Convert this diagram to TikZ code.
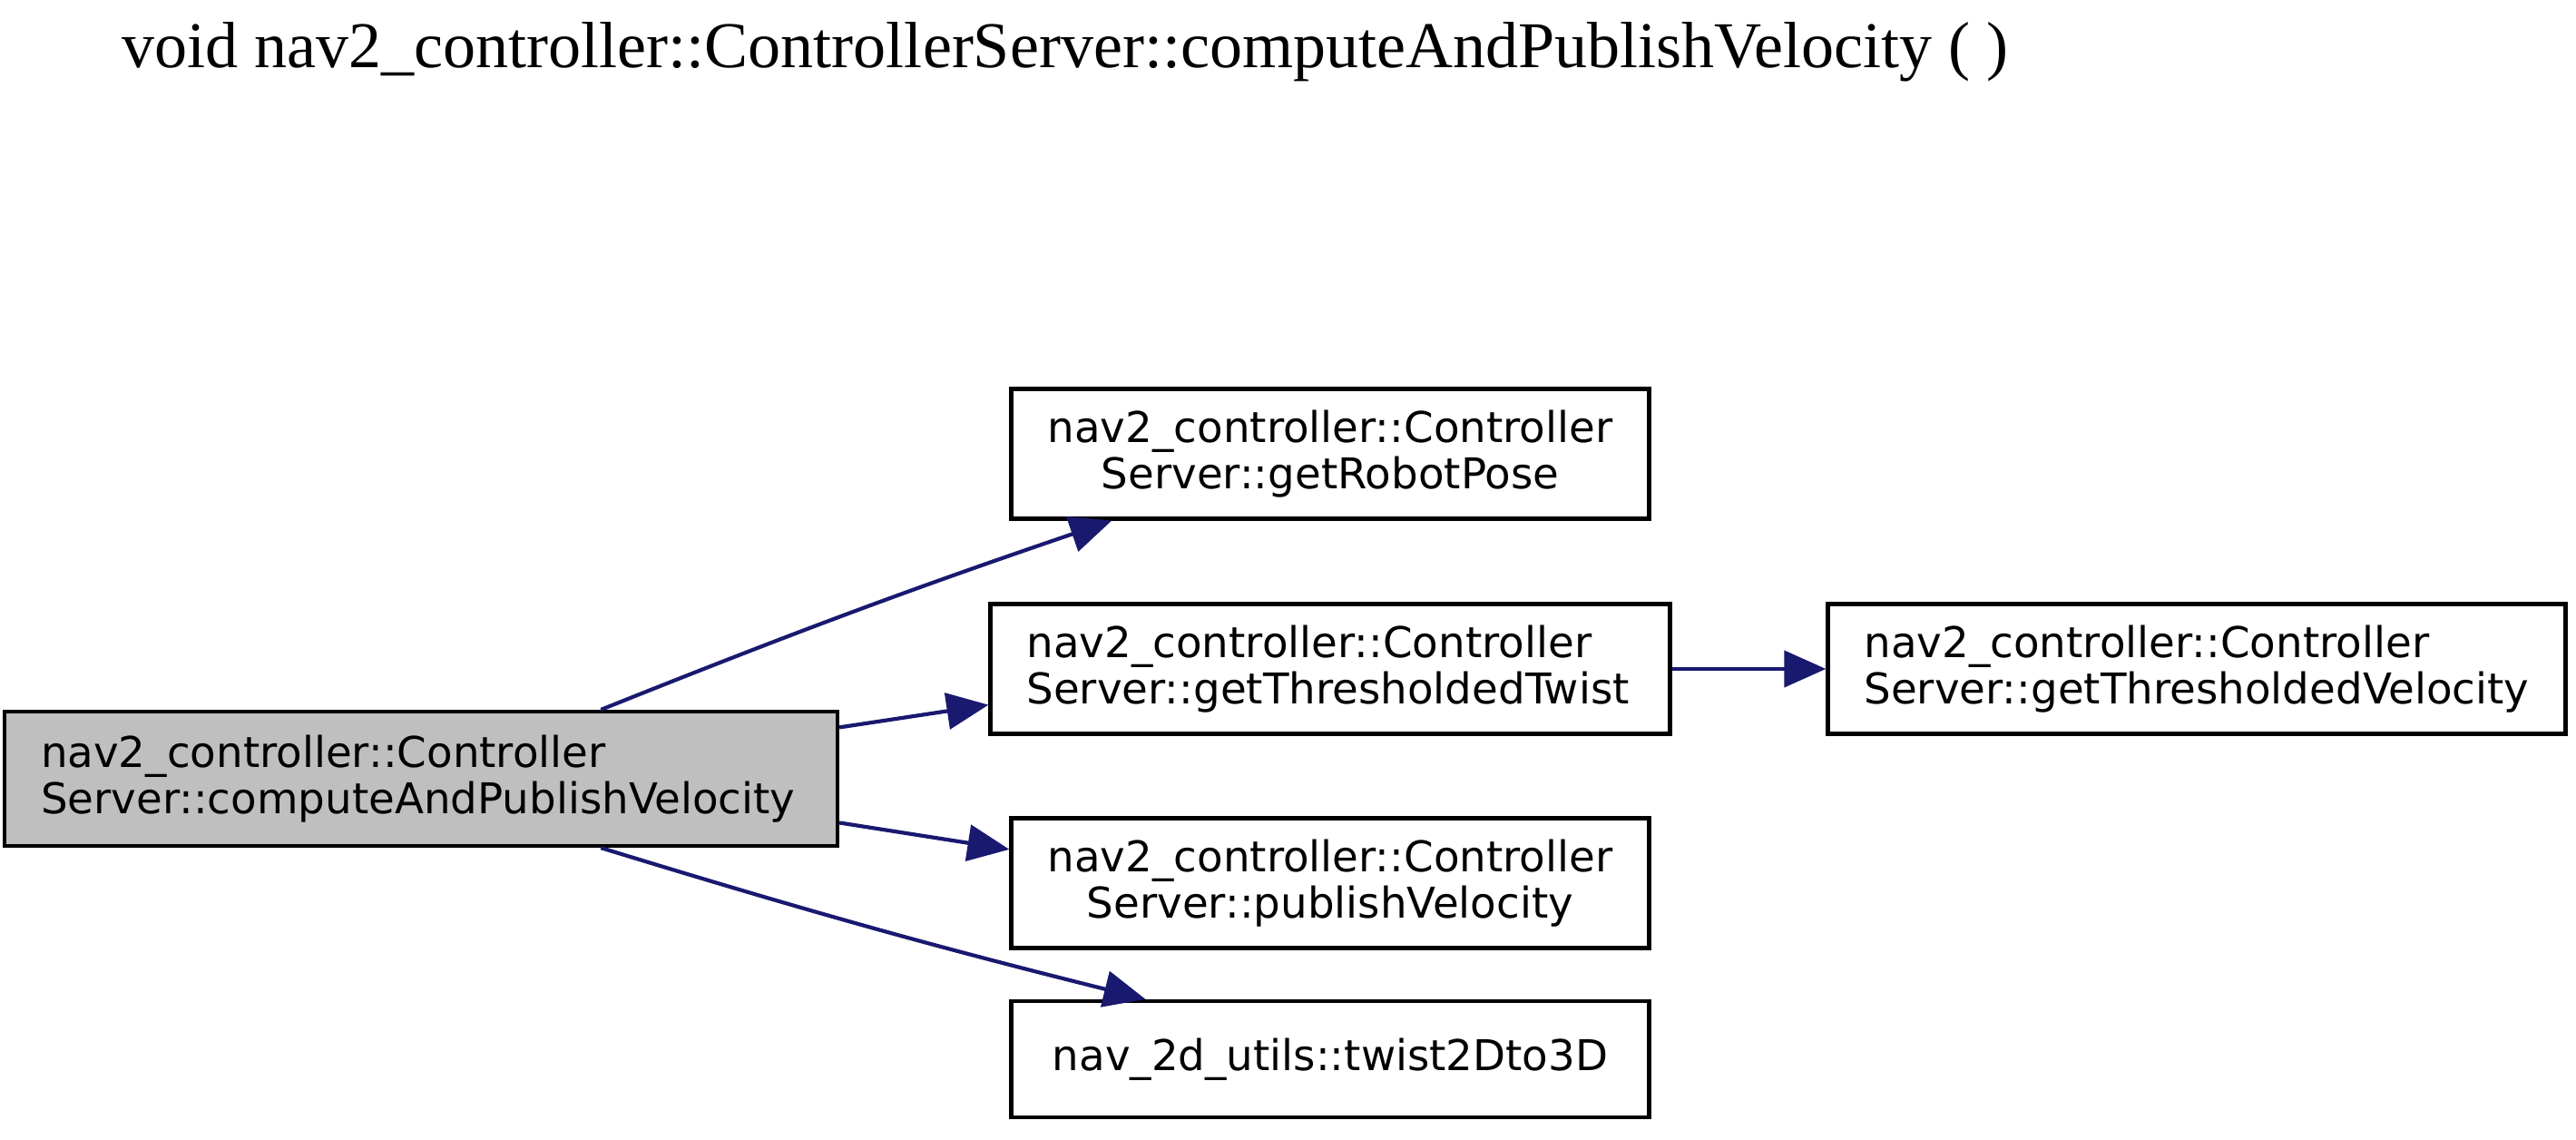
\documentclass[tikz,border=0pt]{standalone}
\usepackage{fontspec}
\setmainfont{Liberation Serif}
\newfontfamily\boxfont{DejaVu Sans}
\usepackage{tikz}
\usetikzlibrary{positioning, arrows.meta}
\definecolor{edgeblue}{HTML}{191970}
\definecolor{boxgray}{HTML}{BFBFBF}

\begin{document}
\begin{tikzpicture}[>={Triangle[length=4.6mm,width=4mm]},
    fn/.style={draw,line width=1.2pt,inner xsep=4mm,inner ysep=0pt,minimum height=1.43cm,
               font=\boxfont\fontsize{13.3}{14.5}\selectfont},
    fnc/.style={fn,align=center,minimum width=7.03cm},
    fnl/.style={fn,align=left},
    call/.style={->,draw=edgeblue,line width=1.2pt}]
    \useasboundingbox (0,0) rectangle (28.39,-12.56);

    \node[anchor=base west,font=\fontsize{20.5}{24}\selectfont] (title) at (1.22,-0.75)
        {void nav2\_controller::ControllerServer::computeAndPublishVelocity ( )};

    \node[fnl,fill=boxgray,text width=8.38cm,minimum height=1.48cm] (main) at (4.64,-8.58)
        {nav2\_controller::Controller\\Server::computeAndPublishVelocity};
    \node[fnc] (pose) at (14.66,-5.00) {nav2\_controller::Controller\\Server::getRobotPose};
    \node[fnl,text width=6.69cm] (twist) at (14.66,-7.37) {nav2\_controller::Controller\\Server::getThresholdedTwist};
    \node[fnl,text width=7.33cm] (vel) at (24.21,-7.37) {nav2\_controller::Controller\\Server::getThresholdedVelocity};
    \node[fnc] (pub) at (14.66,-9.73) {nav2\_controller::Controller\\Server::publishVelocity};
    \node[fnc,minimum height=1.28cm] (t3d) at (14.66,-11.67) {nav\_2d\_utils::twist2Dto3D};

    \path (main.21.5) edge[call,bend left=1.5] (pose.197)
          (main.7) edge[call] (twist.186)
          (main.-6.6) edge[call] (pub.174)
          (main.-21.5) edge[call,bend right=1.5] (t3d.162)
          (twist) edge[call] (vel);
\end{tikzpicture}
\end{document}
